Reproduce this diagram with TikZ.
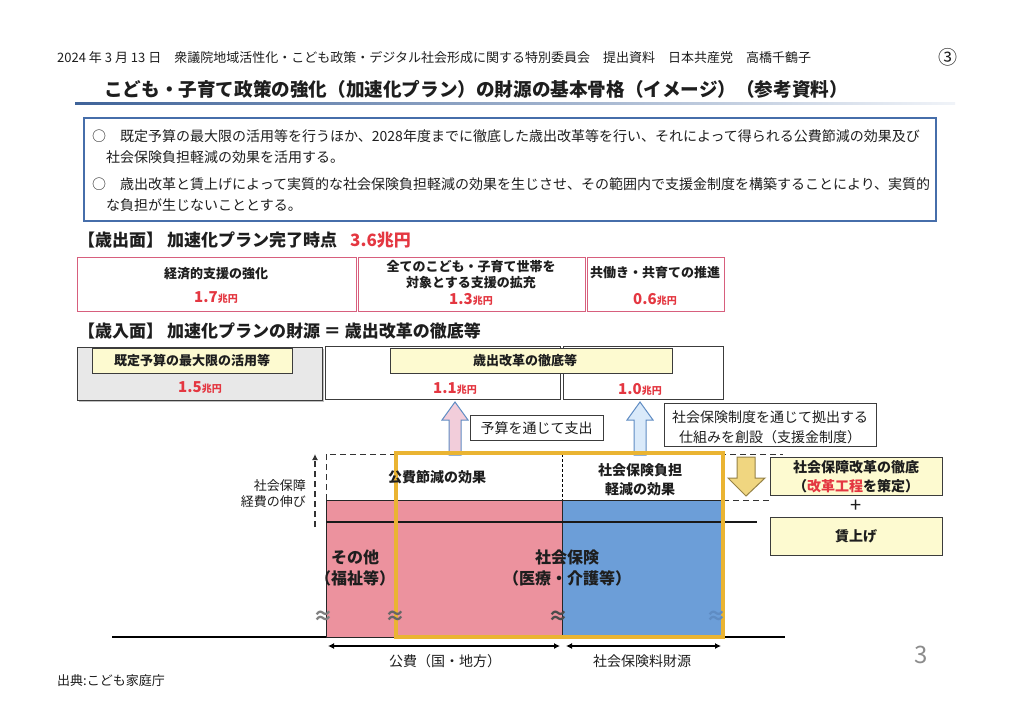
\documentclass[tikz,border=0pt]{standalone}
\usepackage{fontspec}
\setmainfont{Noto Sans CJK JP}
\newfontfamily\jp{Noto Sans CJK JP}
\usetikzlibrary{arrows.meta}
\newcommand\myfs[1]{\fontsize{#1}{#1}\selectfont}
\newcommand\cho[1]{#1{\myfs{10}兆円}}
\definecolor{infoblue}{RGB}{70,110,170}
\definecolor{pinkline}{RGB}{215,95,125}
\definecolor{numred}{RGB}{228,55,65}
\definecolor{boxgray}{RGB}{60,60,60}
\definecolor{lightyel}{RGB}{253,250,208}
\definecolor{goldframe}{RGB}{234,180,50}
\definecolor{barpink}{RGB}{236,146,158}
\definecolor{barblue}{RGB}{108,158,216}
\definecolor{arrpink}{RGB}{242,205,218}
\definecolor{arrblue}{RGB}{218,234,250}
\definecolor{arredge}{RGB}{95,140,195}
\definecolor{arryel}{RGB}{240,214,128}
\definecolor{arryeledge}{RGB}{150,130,70}
\definecolor{titleblack}{RGB}{30,30,30}
\definecolor{bargray}{RGB}{232,232,232}
\tikzset{
 txt/.style={inner sep=0pt, font=\jp\myfs{14}, text=titleblack},
 btxt/.style={inner sep=0pt, font=\jp\bfseries\myfs{13}, text=titleblack},
 num/.style={inner sep=0pt, font=\jp\bfseries\myfs{15}, text=numred},
 pinkbox/.style={draw=pinkline, line width=1.2pt, fill=white, anchor=north west, inner sep=0pt},
 graybox/.style={draw=boxgray, line width=1pt, fill=white, anchor=north west, inner sep=0pt},
 yelbox/.style={draw=boxgray, line width=1pt, fill=lightyel, anchor=north west, inner sep=0pt},
 labelbox/.style={draw=boxgray, line width=0.9pt, fill=white, anchor=north west, inner sep=0pt},
 dashline/.style={dashed, dash pattern=on 6pt off 4pt, line width=1pt, black!80},
 wave/.style={inner sep=0pt, font=\jp\bfseries\myfs{20}},
}
\begin{document}
\begin{tikzpicture}[x=1pt,y=-1pt]
\useasboundingbox (0,0) rectangle (1024,726);
\fill[white] (0,0) rectangle (1024,726);

% header
\node[txt, anchor=west, font=\jp\myfs{13}] (hdr) at (57,58) {2024 年 3 月 13 日　衆議院地域活性化・こども政策・デジタル社会形成に関する特別委員会　提出資料　日本共産党　高橋千鶴子};
\node[txt, font=\jp\myfs{19}] (circ) at (948,57) {③};
\node[txt, anchor=west, font=\jp\bfseries\myfs{18.6}] (title) at (104,89) {こども・子育て政策の強化（加速化プラン）の財源の基本骨格（イメージ）（参考資料）};
\shade[left color=infoblue!90!black, right color=infoblue!8] (75,102.5) rectangle (955,104.5);

% info box
\node[draw=infoblue, line width=1.5pt, fill=white, anchor=north west, minimum width=852pt, minimum height=103pt] (info) at (83,117) {};
\node[txt, anchor=west] (l1) at (92,136) {○　既定予算の最大限の活用等を行うほか、2028年度までに徹底した歳出改革等を行い、それによって得られる公費節減の効果及び};
\node[txt, anchor=west] (l2) at (106,157) {社会保険負担軽減の効果を活用する。};
\node[txt, anchor=west] (l3) at (92,184) {○　歳出改革と賃上げによって実質的な社会保険負担軽減の効果を生じさせ、その範囲内で支援金制度を構築することにより、実質的};
\node[txt, anchor=west] (l4) at (106,205) {な負担が生じないこととする。};

% expenditure side
\node[txt, anchor=west, font=\jp\bfseries\myfs{17}] (h1) at (78,240) {【歳出面】 加速化プラン完了時点};
\node[num, anchor=west, font=\jp\bfseries\myfs{17}] (h1n) at (350,240) {3.6兆円};

\node[pinkbox, minimum width=279pt, minimum height=54pt] (bA) at (77,257) {};
\node[pinkbox, minimum width=227pt, minimum height=54pt] (bB) at (358,257) {};
\node[pinkbox, minimum width=137pt, minimum height=54pt] (bC) at (587,257) {};
\node[btxt] (tA) at (216,274) {経済的支援の強化};
\node[num] (nA) at (216,298) {\cho{1.7}};
\node[btxt] (tB1) at (471,267) {全てのこども・子育て世帯を};
\node[btxt] (tB2) at (471,283) {対象とする支援の拡充};
\node[num] (nB) at (471,299) {\cho{1.3}};
\node[btxt] (tC) at (655,273) {共働き・共育ての推進};
\node[num] (nC) at (655,299) {\cho{0.6}};

% revenue side
\node[txt, anchor=west, font=\jp\bfseries\myfs{17}] (h2) at (78,331) {【歳入面】 加速化プランの財源 ＝ 歳出改革の徹底等};

\fill[black!25] (79,349) rectangle (324,402);
\node[graybox, fill=bargray, minimum width=245pt, minimum height=53pt] (bD) at (77,347) {};
\node[graybox, minimum width=235pt, minimum height=53pt] (bE) at (325,346) {};
\node[graybox, minimum width=160pt, minimum height=53pt] (bF) at (563,346) {};
\node[yelbox, minimum width=200pt, minimum height=25pt] (yD) at (92,348) {};
\node[btxt] (tD) at (192,361) {既定予算の最大限の活用等};
\node[num] (nD) at (200,388) {\cho{1.5}};
\node[yelbox, minimum width=282pt, minimum height=25pt] (yE) at (390,348) {};
\node[btxt] (tE) at (525,361) {歳出改革の徹底等};
\node[num] (nE) at (455,389) {\cho{1.1}};
\node[num] (nF) at (640,389) {\cho{1.0}};

% labels
\node[labelbox, minimum width=133pt, minimum height=25pt] (lbA) at (470,415) {};
\node[txt] (lbAt) at (536.5,428) {予算を通じて支出};
\node[labelbox, minimum width=212pt, minimum height=43pt] (lbB) at (664,403) {};
\node[txt] (lbBt1) at (770,417) {社会保険制度を通じて拠出する};
\node[txt] (lbBt2) at (770,437) {仕組みを創設（支援金制度）};

% right boxes
\node[yelbox, minimum width=172pt, minimum height=38pt] (rb1) at (770,457) {};
\node[btxt, font=\jp\bfseries\myfs{14}] (rb1a) at (856,467) {社会保障改革の徹底};
\node[btxt, font=\jp\bfseries\myfs{14}] (rb1b) at (856,486) {（\textcolor{numred}{改革工程}を策定）};
\node[txt, font=\jp\myfs{20}] (plus) at (856,506) {+};
\node[yelbox, minimum width=172pt, minimum height=38pt] (rb2) at (770,517) {};
\node[btxt, font=\jp\bfseries\myfs{14}] (rb2t) at (856,536) {賃上げ};

% bars
\draw[black, line width=1.8pt] (112,637) -- (785,637);
\filldraw[fill=barpink, draw=black!85, line width=1pt] (326,637) rectangle (562,500);
\filldraw[fill=barblue, draw=black!85, line width=1pt] (562,637) rectangle (723,500);
\draw[black!90, line width=1.4pt] (326,522) -- (757,522);
\draw[dashline] (326,500) -- (326,454) -- (783,454);
\draw[dashed, dash pattern=on 3pt off 2pt, line width=0.6pt] (562,454) -- (562,500);
\draw[dashline] (723,500) -- (770,500);

% block arrows
\filldraw[fill=arrpink, draw=arredge, line width=1pt] (449,455) -- (449,420) -- (442,420) -- (455,402) -- (468,420) -- (461,420) -- (461,455) -- cycle;
\filldraw[fill=arrblue, draw=arredge, line width=1pt] (634,455) -- (634,420) -- (627,420) -- (640,402) -- (653,420) -- (646,420) -- (646,455) -- cycle;
\filldraw[fill=arryel, draw=arryeledge, line width=1pt] (737,457) -- (755,457) -- (755,478) -- (765,478) -- (746,496) -- (728,478) -- (737,478) -- cycle;

% gold frame
\draw[goldframe, line width=4pt] (396,453) rectangle (723,637);

% growth arrow
\coordinate (gbot) at (315,527);
\coordinate (gtop) at (315,454);
\draw[dashline, line width=1.8pt, -{Latex[length=6pt,width=6pt]}] (gbot) -- (gtop);
\node[txt, font=\jp\myfs{13}, anchor=east] (g1) at (306,486) {社会保障};
\node[txt, font=\jp\myfs{13}, anchor=east] (g2) at (306,502) {経費の伸び};

% bar labels
\node[btxt, font=\jp\bfseries\myfs{14}] (k1) at (437,477) {公費節減の効果};
\node[btxt, font=\jp\bfseries\myfs{14}] (k2a) at (640,470) {社会保険負担};
\node[btxt, font=\jp\bfseries\myfs{14}] (k2b) at (640,489) {軽減の効果};
\node[btxt, font=\jp\bfseries\myfs{16}] (o1) at (355,557) {その他};
\node[btxt, font=\jp\bfseries\myfs{16}] (o2) at (355,578) {（福祉等）};
\node[btxt, font=\jp\bfseries\myfs{16}] (s1) at (567,557) {社会保険};
\node[btxt, font=\jp\bfseries\myfs{16}] (s2) at (567,578) {（医療・介護等）};

% waves
\node[wave, text=black!50] (w1) at (323,617) {≈};
\node[wave, text=black!60] (w2) at (395,617) {≈};
\node[wave, text=black!70] (w3) at (558,617) {≈};
\node[wave, text=arredge] (w4) at (716,617) {≈};

% bottom arrows
\coordinate (p1) at (328,646);
\coordinate (p2) at (560,646);
\coordinate (p3) at (566,646);
\coordinate (p4) at (721,646);
\draw[line width=1.5pt, {Latex[length=6pt,width=6pt]}-{Latex[length=6pt,width=6pt]}] (p1) -- (p2);
\draw[line width=1.5pt, {Latex[length=6pt,width=6pt]}-{Latex[length=6pt,width=6pt]}] (p3) -- (p4);
\node[txt] (f1) at (445,661) {公費（国・地方）};
\node[txt] (f2) at (642,661) {社会保険料財源};

\node[txt, font=\jp\myfs{13}, anchor=west] (src) at (57,681) {出典:こども家庭庁};
\node[txt, font=\jp\myfs{24}, text=black!45] (pg) at (921,655) {3};
\end{tikzpicture}
\end{document}
